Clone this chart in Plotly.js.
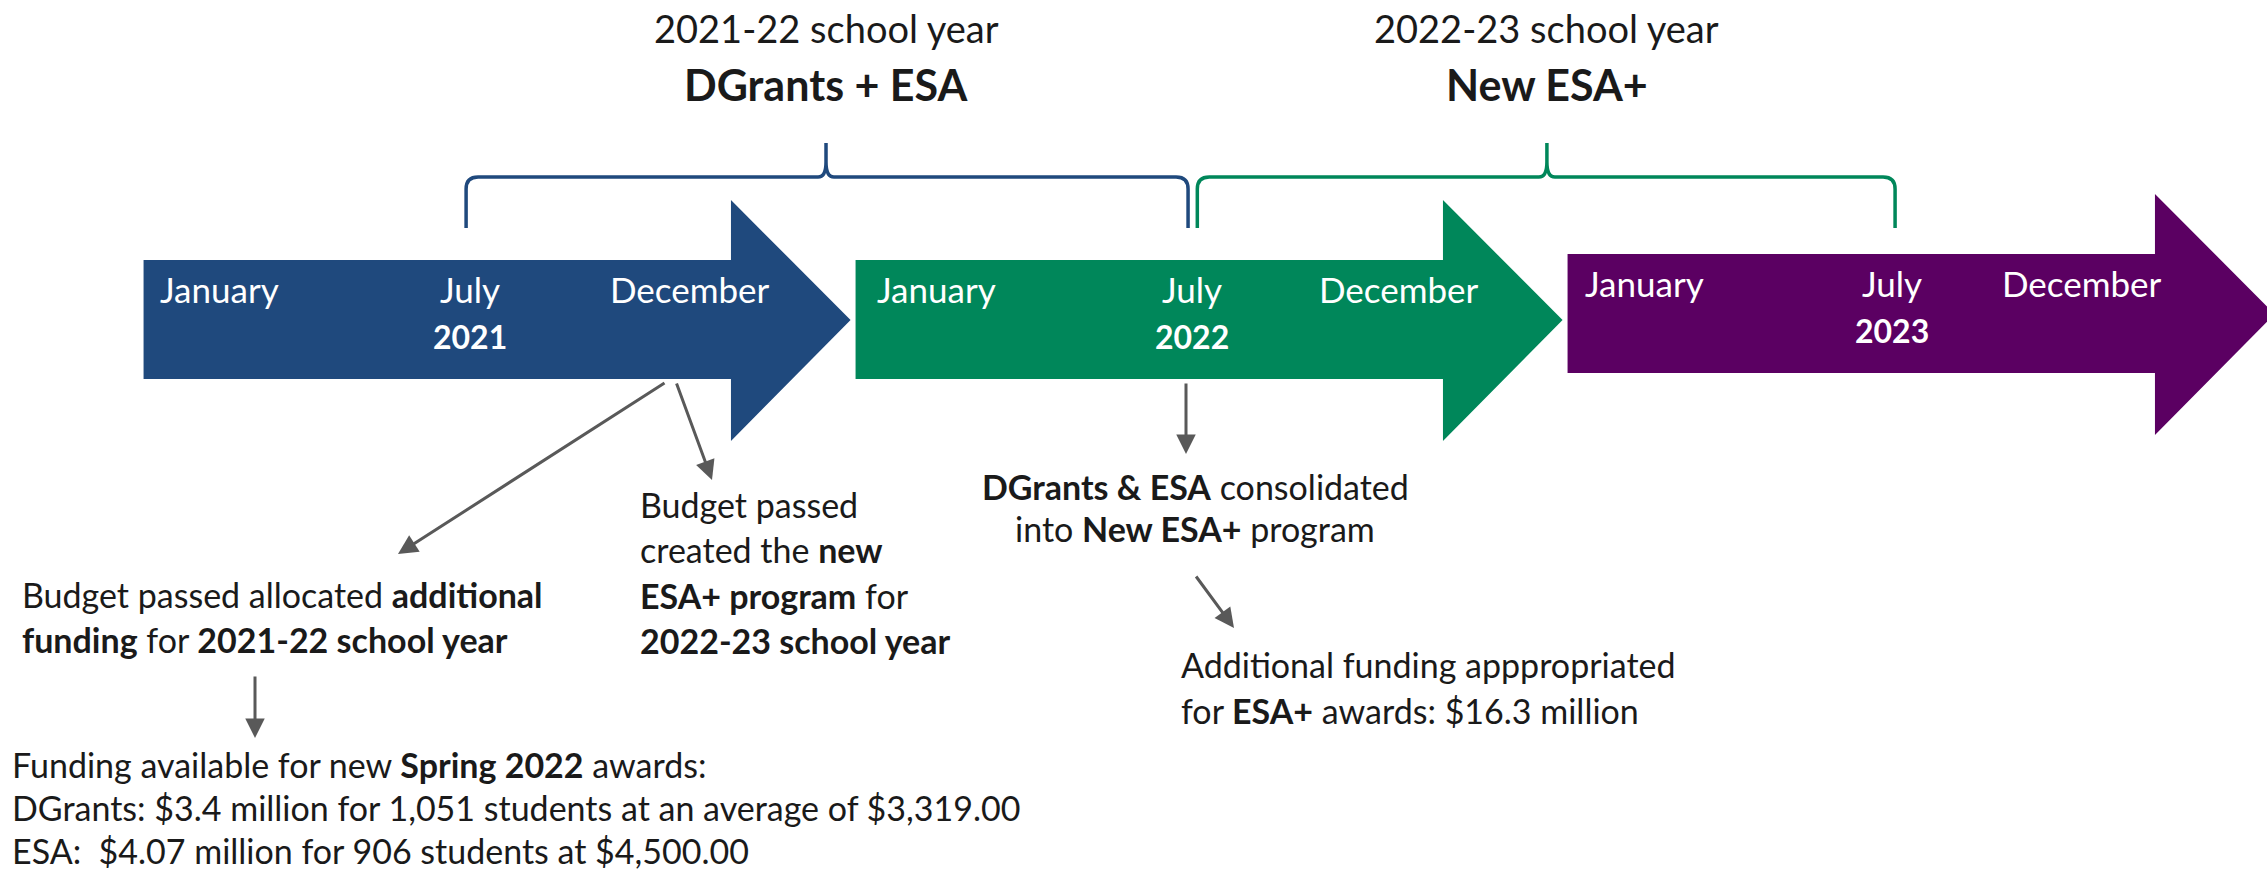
<!DOCTYPE html>
<html>
<head>
<meta charset="utf-8">
<script src="https://cdn.plot.ly/plotly-3.0.1.min.js"></script>
<style>html,body{margin:0;padding:0;background:#fff;}</style>
</head>
<body>
<div id="timeline" style="width:2267px;height:871px;"></div>
<script>
// timeline content
var years = [2021, 2022, 2023];
var monthLabels = ['January', 'July', 'December'];
var schoolYearStarts = [2021, 2022];
var schoolYearLabels = ['2021-22 school year', '2022-23 school year'];
var programLabels = ['DGrants + ESA', 'New ESA+'];

var noteAllocated = ['Budget passed allocated <b>additional</b>', '<b>funding</b> for <b>2021-22 school year</b>'];
var noteCreated = ['Budget passed', 'created the <b>new</b>', '<b>ESA+ program</b> for', '<b>2022-23 school year</b>'];
var noteConsolidated = ['<b>DGrants &amp; ESA</b> consolidated', 'into <b>New ESA+</b> program'];
var noteAppropriated = ['Additional funding apppropriated', 'for <b>ESA+</b> awards: $16.3 million'];
var noteSpring = ['Funding available for new <b>Spring 2022</b> awards:',
    'DGrants: $3.4 million for 1,051 students at an average of $3,319.00',
    'ESA:\u00a0 $4.07 million for 906 students at $4,500.00'];

// styling
var yearColors = ['#1F497D', '#00875A', '#5B0062'];
var arrowLift = [0, 0, -6];
var janOff = [0.025, 0.032, 0.027], julOff = [0.463, 0.478, 0.461], decOff = [0.772, 0.768, 0.7275];
// brace [left end, right end, cusp] as offsets from the school year start
var braceOff = [[0.458, 1.472, 0.9635], [0.485, 1.465, 0.976]];
var FONT = 'Lato, "Open Sans", sans-serif';
var grey = '#595959';
var ink = '#1a1a1a';

// 712 px per year, 2021 starts at px 140
function X(px) { return 2021 + (px - 140) / 712; }

var data = [];
var annotations = [];
var shapes = [];

years.forEach(function (y, i) {
    var L = arrowLift[i];
    data.push({
        x: [y + 0.005, y + 0.83, y + 0.83, y + 0.998, y + 0.83, y + 0.83, y + 0.005, y + 0.005],
        y: [260 + L, 260 + L, 200 + L, 320 + L, 441 + L, 379 + L, 379 + L, 260 + L],
        mode: 'lines', fill: 'toself', fillcolor: yearColors[i],
        line: {width: 0, color: yearColors[i]}, hoverinfo: 'skip'
    });
    var offs = [janOff[i], julOff[i], decOff[i]];
    monthLabels.forEach(function (m, j) {
        annotations.push({
            x: y + offs[j], y: 289 + L, text: m, showarrow: false,
            xanchor: j === 0 ? 'left' : 'center', yanchor: 'middle',
            font: {family: FONT, size: 35, color: '#ffffff'}
        });
    });
    annotations.push({
        x: y + julOff[i], y: 336 + L, text: '<b>' + y + '</b>', showarrow: false,
        xanchor: 'center', yanchor: 'middle',
        font: {family: FONT, size: 32, color: '#ffffff'}
    });
});

// braces over each school year (July to July)
schoolYearStarts.forEach(function (s, i) {
    var xa = s + braceOff[i][0], xb = s + braceOff[i][1], xc = s + braceOff[i][2];
    var d = 12 / 712, dc = 8 / 712;
    var p = 'M ' + xa + ',228 L ' + xa + ',189 Q ' + xa + ',177 ' + (xa + d) + ',177' +
        ' L ' + (xc - dc) + ',177 Q ' + xc + ',177 ' + xc + ',162 L ' + xc + ',143' +
        ' M ' + xc + ',162 Q ' + xc + ',177 ' + (xc + dc) + ',177' +
        ' L ' + (xb - d) + ',177 Q ' + xb + ',177 ' + xb + ',189 L ' + xb + ',228';
    shapes.push({type: 'path', xref: 'x', yref: 'y', path: p, line: {color: yearColors[i], width: 3.5}});
    annotations.push({
        x: xc, y: 28, text: schoolYearLabels[i], showarrow: false,
        xanchor: 'center', yanchor: 'middle', font: {family: FONT, size: 38, color: ink}
    });
    annotations.push({
        x: xc, y: 84, text: '<b>' + programLabels[i] + '</b>', showarrow: false,
        xanchor: 'center', yanchor: 'middle', font: {family: FONT, size: 43, color: ink}
    });
});

function addLines(lines, px, yTop, gap, anchor) {
    lines.forEach(function (t, i) {
        annotations.push({
            x: X(px), y: yTop + i * gap, text: t, showarrow: false,
            xanchor: anchor, yanchor: 'middle', font: {family: FONT, size: 34, color: ink}
        });
    });
}
addLines(noteAllocated, 20, 594, 45, 'left');
addLines(noteCreated, 638, 504, 45.5, 'left');
addLines(noteConsolidated, 1195, 486, 42, 'center');
addLines(noteAppropriated, 1179, 664, 46, 'left');
addLines(noteSpring, 10, 764, 43, 'left');

// connector arrows: [tail px, tail y, head px, head y]
var connectors = [
    [666, 382, 398, 554],
    [676, 382, 712, 480],
    [255, 675, 255, 738],
    [1186, 382, 1186, 454],
    [1195, 575, 1234, 628]
];
connectors.forEach(function (c) {
    annotations.push({
        x: X(c[2]), y: c[3], ax: X(c[0]), ay: c[1], axref: 'x', ayref: 'y',
        text: '', showarrow: true, arrowhead: 2, arrowsize: 1.3, arrowwidth: 3,
        arrowcolor: grey, standoff: 0, startstandoff: 0
    });
});

var layout = {
    width: 2267, height: 871,
    margin: {l: 0, r: 0, t: 0, b: 0},
    paper_bgcolor: '#ffffff', plot_bgcolor: '#ffffff',
    showlegend: false, hovermode: false,
    xaxis: {range: [X(0), X(2267)], visible: false, fixedrange: true},
    yaxis: {range: [871, 0], visible: false, fixedrange: true},
    shapes: shapes,
    annotations: annotations
};

Plotly.newPlot('timeline', data, layout, {staticPlot: true, displayModeBar: false});
</script>
</body>
</html>
